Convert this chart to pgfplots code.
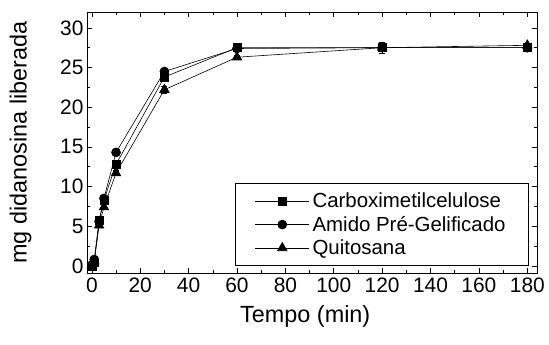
\documentclass[border=0pt]{standalone}
\usepackage{fontspec}
\setmainfont{Liberation Sans}
\usepackage{pgfplots}
\pgfplotsset{compat=1.18}
\begin{document}
\begin{tikzpicture}
\begin{axis}[
  scale only axis,
  width=450bp, height=261bp,
  xmin=-2, xmax=184, ymin=-0.9, ymax=32,
  xtick={0,20,...,180}, ytick={0,5,...,30},
  minor x tick num=1, minor y tick num=1,
  tick align=inside, major tick length=5bp, minor tick length=3bp,
  axis line style={line width=0.8pt}, every tick/.style={line width=0.6pt, black},
  /pgf/number format/assume math mode=true,
  ticklabel style={font=\fontsize{21}{23}\selectfont},
  xticklabel style={yshift=-1bp},
  label style={font=\fontsize{23.5}{26}\selectfont},
  xlabel={Tempo (min)}, ylabel={mg didanosina liberada},
  xlabel style={at={(axis description cs:0.485,0)}, anchor=north, yshift=-29bp},
  ylabel style={at={(axis description cs:0,0.5)}, anchor=south, yshift=52bp},
  legend style={at={(0.982,0.027)}, anchor=south east, draw=black, line width=0.7pt,
    font=\fontsize{20.5}{22}\selectfont, row sep=3bp, inner xsep=20bp, inner ysep=7.5bp,
    nodes={inner xsep=3bp}},
  legend cell align=left,
  legend image code/.code={
    \draw[line width=0.6pt,mark=none] (0bp,0bp) -- (54bp,0bp);
    \draw[line width=0.6pt,mark repeat=2,mark phase=2] plot coordinates {(0bp,0bp) (27bp,0bp) (54bp,0bp)};
  },
  error bars/error bar style={line width=0.6pt, black},
  error bars/error mark options={rotate=90, mark size=3bp, line width=0.6pt, black},
]
\addplot[black, line width=0.6pt, mark=square*, mark size=4bp, mark options={fill=black, solid}, error bars/.cd, y dir=both, y explicit]
  table[x=t, y=y, y error=e] {
  t y e
  0 0.0 0.1
  1 0.5 0.2
  3 5.7 0.3
  5 8.3 0.4
  10 12.8 0.5
  30 23.8 0.5
  60 27.5 0.4
  120 27.5 0.7
  180 27.5 0.3
};
\addlegendentry{Carboximetilcelulose}
\addplot[black, line width=0.6pt, mark=*, mark size=4.5bp, mark options={fill=black, solid}, error bars/.cd, y dir=both, y explicit]
  table[x=t, y=y, y error=e] {
  t y e
  0 0.1 0.1
  1 0.8 0.2
  3 5.6 0.3
  5 8.5 0.3
  10 14.3 0.3
  30 24.5 0.4
  60 27.4 0.4
  120 27.5 0.5
  180 27.5 0.3
};
\addlegendentry{Amido Pré-Gelificado}
\addplot[black, line width=0.6pt, mark=triangle*, mark size=5.5bp, mark options={fill=black, solid}, error bars/.cd, y dir=both, y explicit]
  table[x=t, y=y, y error=e] {
  t y e
  0 0.0 0.1
  1 0.6 0.2
  3 5.1 0.3
  5 7.4 0.3
  10 11.7 0.3
  30 22.2 0.4
  60 26.3 0.3
  120 27.5 0.5
  180 27.8 0.3
};
\addlegendentry{Quitosana}
\coordinate (sw) at (rel axis cs:0,0);
\end{axis}
\pgfresetboundingbox
\path (sw) ++(-87bp,-72bp) rectangle ++(549bp,345bp);
\end{tikzpicture}
\end{document}
